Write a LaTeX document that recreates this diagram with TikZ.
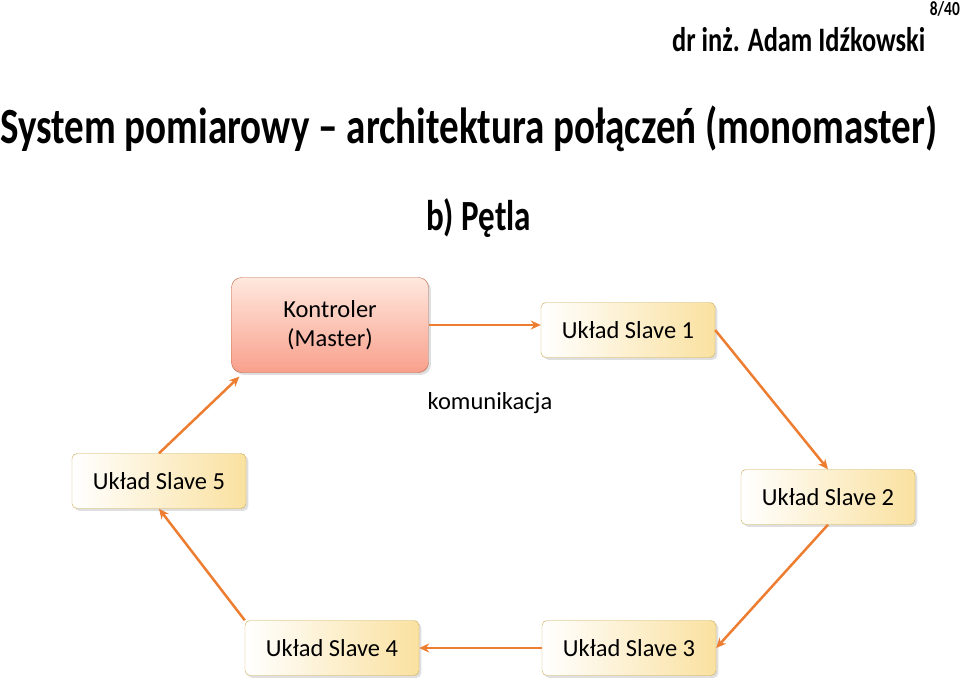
\documentclass[tikz,border=0pt]{standalone}
\usepackage{fontspec}
\setmainfont{Carlito}
\usetikzlibrary{shadows,arrows.meta}
\definecolor{arr}{HTML}{ED7D31}
\tikzset{
 slave/.style={draw={rgb,255:red,200;green,170;blue,80}, rounded corners=5pt, minimum width=174pt, minimum height=55pt,
   left color=white, right color={rgb,255:red,250;green,225;blue,160}, font=\fontsize{24.5}{29}\selectfont, drop shadow={opacity=0.25}},
 master/.style={draw={rgb,255:red,190;green,100;blue,70}, rounded corners=10pt, minimum width=197pt, minimum height=95pt,
   top color={rgb,255:red,255;green,232;blue,222}, bottom color={rgb,255:red,248;green,160;blue,140}, font=\fontsize{24.5}{29}\selectfont, align=center, drop shadow={opacity=0.25}},
 conn/.style={draw=arr, line width=2.5pt, -{Stealth[length=10pt,width=9pt]}}
}
\begin{document}
\begin{tikzpicture}[x=1pt,y=-1pt]
\useasboundingbox (0,0) rectangle (960,696);
\node[font=\bfseries, anchor=north east, inner sep=0pt] (pg) at (960,1) {\scalebox{1}[1.3]{\resizebox{30pt}{!}{8/40}}};
\node[font=\bfseries, anchor=west, inner sep=0pt] (au) at (672,40) {\scalebox{1}[1.3]{\resizebox{253pt}{!}{dr inż. Adam Idźkowski}}};
\node[font=\bfseries, anchor=west, inner sep=0pt] (t) at (0,129) {\scalebox{1}[1.3]{\resizebox{937pt}{!}{System pomiarowy – architektura połączeń (monomaster)}}};
\node[font=\bfseries, anchor=west, inner sep=0pt] (b) at (426,218) {\scalebox{1}[1.3]{\resizebox{105pt}{!}{b) Pętla}}};
\node[master] (M) at (330,325) {Kontroler\\(Master)};
\node[slave] (S1) at (628,330) {Układ Slave 1};
\node[slave] (S2) at (828,497) {Układ Slave 2};
\node[slave] (S3) at (629,648) {Układ Slave 3};
\node[slave] (S4) at (332,648) {Układ Slave 4};
\node[slave] (S5) at (159,481) {Układ Slave 5};
\node[font=\fontsize{24.5}{29}\selectfont] (k) at (490,403) {komunikacja};
\draw[conn] (M.east) -- (S1.west |- M.east);
\draw[conn] (S1.east) -- (S2.north);
\draw[conn] (S2.south) -- (S3.east);
\draw[conn] (S3.west) -- (S4.east);
\draw[conn] (S4.north west) -- (S5.south);
\draw[conn] (S5.north) -- ([xshift=8pt,yshift=-4pt]M.south west);
\end{tikzpicture}
\end{document}
